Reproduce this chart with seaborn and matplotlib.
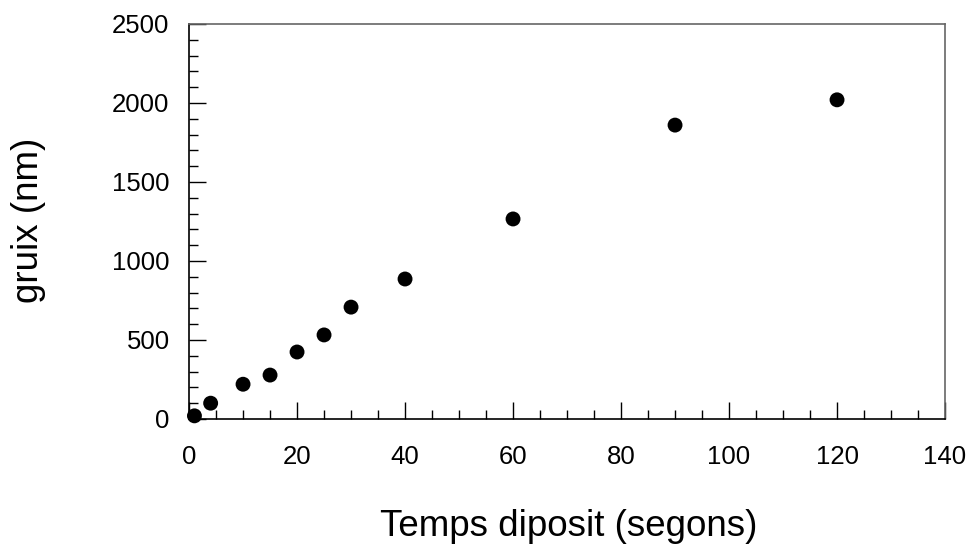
import matplotlib
matplotlib.use("Agg")
import matplotlib.pyplot as plt
from matplotlib.ticker import MultipleLocator
import pandas as pd
import seaborn as sns

# deposition time (s) and thickness (nm)
temps = [1, 4, 10, 15, 20, 25, 30, 40, 60, 90, 120]
gruix = [20, 100, 220, 278, 424, 532, 708, 886, 1266, 1860, 2020]

df = pd.DataFrame({"temps": temps, "gruix": gruix})

sns.set_style("ticks")
plt.rcParams["font.family"] = ["Liberation Sans", "DejaVu Sans"]
plt.rcParams["text.color"] = "black"
plt.rcParams["xtick.labelcolor"] = "black"
plt.rcParams["ytick.labelcolor"] = "black"

fig = plt.figure(figsize=(9.66, 5.45), dpi=100)
ax = fig.add_axes([0.1957, 0.2312, 0.7826, 0.7248])

sns.scatterplot(data=df, x="temps", y="gruix", color="black", s=115,
                edgecolor="none", ax=ax, zorder=3, clip_on=False)

ax.set_xlim(0, 140)
ax.set_ylim(0, 2500)
ax.xaxis.set_major_locator(MultipleLocator(20))
ax.xaxis.set_minor_locator(MultipleLocator(5))
ax.yaxis.set_major_locator(MultipleLocator(500))
ax.yaxis.set_minor_locator(MultipleLocator(100))

ax.tick_params(which="major", direction="in", length=12, width=1, color="black",
               labelsize=18.5, labelcolor="black", top=False, right=False)
ax.tick_params(which="minor", direction="in", length=6.5, width=1, color="black",
               top=False, right=False)
ax.tick_params(axis="x", which="major", pad=19)
ax.tick_params(axis="y", which="major", pad=14)

for side in ["left", "bottom"]:
    ax.spines[side].set_color("black")
    ax.spines[side].set_linewidth(1.2)
for side in ["top", "right"]:
    ax.spines[side].set_color("#666666")
    ax.spines[side].set_linewidth(1.2)

ax.set_xlabel("")
ax.set_ylabel("")
fig.text(0.589, (545 - 536) / 545, "Temps diposit (segons)", fontsize=26.5,
         ha="center", va="baseline", color="black")
fig.text(0.029, 0.596, "gruix (nm)", fontsize=26.5, ha="center", va="center",
         rotation=90, color="black")

fig.savefig("out.png", dpi=100)
plt.close(fig)
